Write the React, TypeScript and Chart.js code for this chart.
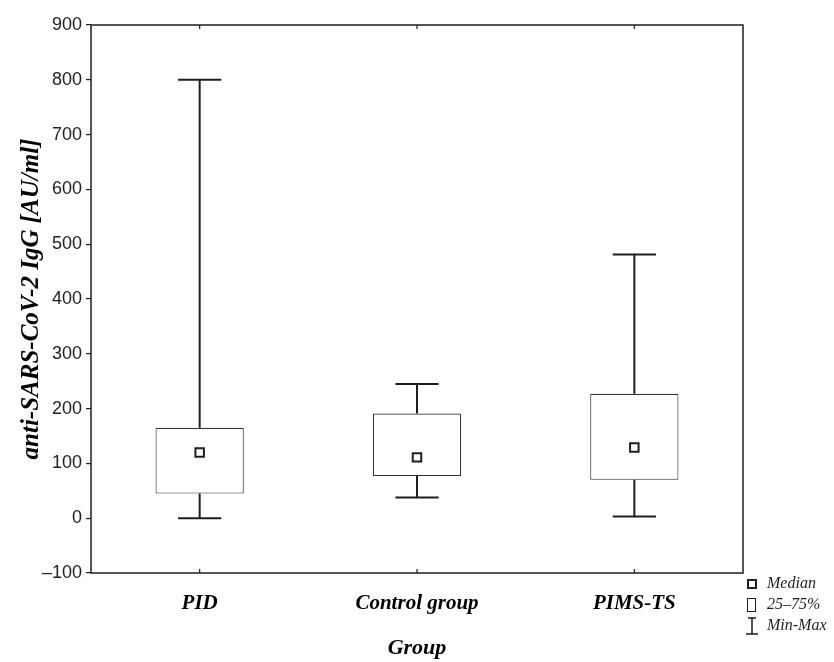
import React, { useEffect, useRef } from "react";
import { Chart, registerables } from "chart.js";

Chart.register(...registerables);

// ---- data ----
const categories = ["PID", "Control group", "PIMS-TS"];
const minValues = [0, 38, 3];
const q1Values = [45, 77, 70];
const medianValues = [120, 111, 129];
const q3Values = [165, 191, 227];
const maxValues = [800, 245, 481];
const yMin = -100;
const yMax = 900;
const yStep = 100;
const legendLabels = ["Median", "25\u201375%", "Min-Max"];
const xTitle = "Group";
const yTitle = "anti-SARS-CoV-2 IgG [AU/ml]";

const INK = "#1e1e1e";

const whiskerPlugin = {
  id: "whiskers",
  beforeDatasetsDraw(chart: any) {
    const { ctx } = chart;
    const xs = chart.scales.x;
    const ys = chart.scales.y;
    const meta = chart.getDatasetMeta(0);
    ctx.save();
    ctx.strokeStyle = INK;
    ctx.lineWidth = 2;
    categories.forEach((_, i) => {
      const x = xs.getPixelForValue(i);
      const bw = meta.data[i] ? meta.data[i].width : 88;
      const half = bw * 0.245;
      const yMaxP = ys.getPixelForValue(maxValues[i]);
      const yQ3 = ys.getPixelForValue(q3Values[i]);
      const yQ1 = ys.getPixelForValue(q1Values[i]);
      const yMinP = ys.getPixelForValue(minValues[i]);
      ctx.beginPath();
      ctx.moveTo(x, yMaxP);
      ctx.lineTo(x, yQ3);
      ctx.moveTo(x, yQ1);
      ctx.lineTo(x, yMinP);
      ctx.moveTo(x - half, yMaxP);
      ctx.lineTo(x + half, yMaxP);
      ctx.moveTo(x - half, yMinP);
      ctx.lineTo(x + half, yMinP);
      ctx.stroke();
    });
    ctx.restore();
  },
};

const framePlugin = {
  id: "frame",
  afterDatasetsDraw(chart: any) {
    const { ctx, chartArea } = chart;
    const xs = chart.scales.x;
    const { left, right, top, bottom } = chartArea;
    ctx.save();
    ctx.strokeStyle = INK;
    ctx.lineWidth = 1.5;
    ctx.strokeRect(left, top, right - left, bottom - top);
    ctx.lineWidth = 1.2;
    ctx.beginPath();
    categories.forEach((_, i) => {
      const x = xs.getPixelForValue(i);
      ctx.moveTo(x, top);
      ctx.lineTo(x, top + 4);
      ctx.moveTo(x, bottom);
      ctx.lineTo(x, bottom - 4);
    });
    ctx.stroke();
    ctx.restore();
  },
};

const legendPlugin = {
  id: "customLegend",
  afterDraw(chart: any) {
    const { ctx } = chart;
    ctx.save();
    ctx.strokeStyle = INK;
    ctx.fillStyle = "#ffffff";
    const iconX = 752;
    const textX = 767;
    const rows = [584, 605, 626];
    // median icon
    ctx.lineWidth = 2;
    ctx.fillRect(748, rows[0] - 4, 8, 8);
    ctx.strokeRect(748, rows[0] - 4, 8, 8);
    // box icon
    ctx.lineWidth = 1;
    ctx.strokeRect(747.5, rows[1] - 6.5, 8, 13);
    // whisker icon
    ctx.lineWidth = 1.5;
    ctx.beginPath();
    ctx.moveTo(iconX, rows[2] - 8);
    ctx.lineTo(iconX, rows[2] + 8);
    ctx.moveTo(iconX - 4, rows[2] - 8);
    ctx.lineTo(iconX + 4, rows[2] - 8);
    ctx.moveTo(iconX - 6, rows[2] + 8);
    ctx.lineTo(iconX + 6, rows[2] + 8);
    ctx.stroke();
    ctx.fillStyle = INK;
    ctx.font = 'italic 16px "Liberation Serif"';
    ctx.textBaseline = "middle";
    ctx.textAlign = "left";
    legendLabels.forEach((t, i) => ctx.fillText(t, textX, rows[i]));
    ctx.restore();
  },
};

export default function App() {
  const canvasRef = useRef<HTMLCanvasElement | null>(null);

  useEffect(() => {
    const canvas = canvasRef.current;
    if (!canvas) return;
    const chart = new Chart(canvas, {
      type: "bar",
      data: {
        labels: categories,
        datasets: [
          {
            type: "bar",
            order: 2,
            data: categories.map((_, i) => [q1Values[i], q3Values[i]]) as any,
            backgroundColor: "#ffffff",
            borderColor: "#333",
            borderWidth: 1.1,
            borderSkipped: false,
            barPercentage: 0.406,
            categoryPercentage: 1,
          } as any,
          {
            type: "line",
            order: 1,
            data: medianValues,
            showLine: false,
            pointStyle: "rect",
            pointRadius: 6,
            pointBorderWidth: 2,
            pointBackgroundColor: "#ffffff",
            pointBorderColor: INK,
          } as any,
        ],
      },
      options: {
        responsive: false,
        animation: false,
        events: [],
        layout: { padding: { left: 0, top: 25, right: 91, bottom: 0 } },
        plugins: {
          legend: { display: false },
          tooltip: { enabled: false },
        },
        scales: {
          x: {
            type: "category",
            offset: true,
            grid: { display: false },
            border: { display: false },
            ticks: {
              color: "#000",
              padding: 10,
              font: { family: "Liberation Serif", size: 21, style: "italic", weight: "bold" },
            },
            title: {
              display: true,
              text: xTitle,
              color: "#000",
              padding: { top: 0, bottom: 0 },
              font: { family: "Liberation Serif", size: 22, style: "italic", weight: "bold" },
            },
            afterFit: (s: any) => {
              s.height = 89;
            },
          },
          y: {
            min: yMin,
            max: yMax,
            grid: {
              display: true,
              drawOnChartArea: false,
              drawTicks: true,
              tickLength: 5,
              color: INK,
              lineWidth: 1.2,
            },
            border: { display: false },
            ticks: {
              stepSize: yStep,
              color: "#222",
              padding: 4,
              font: { family: "Liberation Sans", size: 18 },
              callback: (v: any) => (Number(v) < 0 ? "\u2013" + Math.abs(Number(v)) : String(v)),
            },
            title: {
              display: true,
              text: yTitle,
              color: "#000",
              padding: { top: 17, bottom: 0 },
              font: { family: "Liberation Serif", size: 25, style: "italic", weight: "bold" },
            },
            afterFit: (s: any) => {
              s.width = 91;
            },
          },
        },
      },
      plugins: [whiskerPlugin, framePlugin, legendPlugin],
    });
    return () => chart.destroy();
  }, []);

  return (
    <div style={{ position: "absolute", left: 0, top: 0, width: 834, height: 662, background: "#fff" }}>
      <canvas ref={canvasRef} width={834} height={662} style={{ display: "block" }} />
    </div>
  );
}
